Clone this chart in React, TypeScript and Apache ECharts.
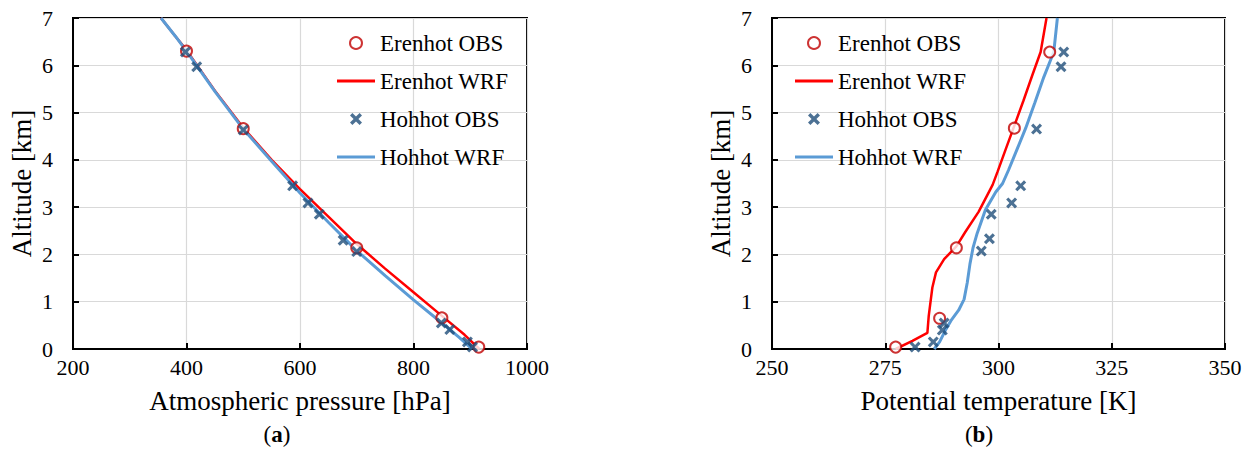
import React, { useEffect, useRef } from 'react';
import * as echarts from 'echarts';

// ---- Data (panel a: pressure vs altitude) ----
const pressureErenhotObs: number[][] = [[400, 6.3], [500, 4.66], [700, 2.14], [850, 0.66], [915, 0.04]];
const pressureErenhotWrf: number[][] = [[355, 7.0], [380, 6.62], [400, 6.32], [450, 5.46], [500, 4.68], [550, 4.0], [600, 3.38], [650, 2.8], [700, 2.22], [750, 1.7], [800, 1.2], [850, 0.7], [890, 0.3], [916, 0.0]];
const pressureHohhotObs: number[][] = [[398, 6.28], [418, 5.97], [500, 4.63], [587, 3.45], [614, 3.09], [634, 2.85], [676, 2.3], [700, 2.06], [849, 0.55], [864, 0.41], [895, 0.15], [904, 0.04]];
const pressureHohhotWrf: number[][] = [[355, 7.0], [380, 6.62], [400, 6.3], [450, 5.45], [500, 4.65], [550, 3.97], [600, 3.3], [650, 2.68], [700, 2.08], [750, 1.55], [800, 1.04], [850, 0.55], [880, 0.25], [903, 0.0]];

// ---- Data (panel b: potential temperature vs altitude) ----
const thetaErenhotObs: number[][] = [[277.3, 0.04], [287, 0.65], [290.7, 2.14], [303.5, 4.67], [311.3, 6.28]];
const thetaErenhotWrf: number[][] = [[277.3, 0.0], [281, 0.17], [284.3, 0.34], [284.6, 0.7], [285.0, 1.0], [285.4, 1.3], [286.2, 1.62], [288, 1.9], [290.7, 2.17], [292.7, 2.48], [295.6, 2.9], [297.5, 3.25], [298.7, 3.47], [299.8, 3.75], [301.5, 4.2], [303.3, 4.67], [305.5, 5.25], [307.5, 5.8], [309.3, 6.28], [310.6, 7.0]];
const thetaHohhotObs: number[][] = [[281.6, 0.04], [285.6, 0.15], [287.6, 0.4], [288, 0.55], [296.2, 2.07], [298, 2.33], [298.4, 2.85], [302.9, 3.09], [304.9, 3.45], [308.4, 4.65], [313.8, 5.97], [314.4, 6.28]];
const thetaHohhotWrf: number[][] = [[285.8, 0.0], [287, 0.15], [288.3, 0.4], [289.5, 0.6], [291.2, 0.82], [292.4, 1.05], [293.1, 1.4], [293.7, 1.8], [294.4, 2.15], [295.3, 2.45], [297.1, 2.94], [299.4, 3.32], [300.9, 3.5], [302.2, 3.78], [304, 4.2], [306, 4.67], [308, 5.2], [310, 5.75], [312.2, 6.28], [313, 7.0]];

const seriesNames = ['Erenhot OBS', 'Erenhot WRF', 'Hohhot OBS', 'Hohhot WRF'];
const xTitles = ['Atmospheric pressure [hPa]', 'Potential temperature [K]'];
const yTitle = 'Altitude [km]';
const captions = ['a', 'b'];

const FONT = '"Liberation Serif", "Times New Roman", Times, serif';
const RED_DARK = '#c00000';
const RED = '#ff0000';
const BLUE_DARK = '#1f4e79';
const BLUE = '#5b9bd5';
const CROSS = 'path://M2,0L5,3L8,0L10,2L7,5L10,8L8,10L5,7L2,10L0,8L3,5L0,2Z';
const LINE_ICON = 'path://M0,0L40,0L40,3L0,3Z';

function makeSeries(idx: number, eObs: number[][], eWrf: number[][], hObs: number[][], hWrf: number[][]) {
  return [
    {
      name: seriesNames[1], type: 'line', xAxisIndex: idx, yAxisIndex: idx, data: eWrf,
      symbol: 'none', lineStyle: { color: RED, width: 2.5 }, itemStyle: { color: RED }, z: 2,
    },
    {
      name: seriesNames[3], type: 'line', xAxisIndex: idx, yAxisIndex: idx, data: hWrf,
      symbol: 'none', lineStyle: { color: BLUE, width: 3 }, itemStyle: { color: BLUE }, z: 3,
    },
    {
      name: seriesNames[0], type: 'scatter', xAxisIndex: idx, yAxisIndex: idx, data: eObs,
      symbol: 'emptyCircle', symbolSize: 11,
      itemStyle: { color: RED_DARK, borderColor: RED_DARK, borderWidth: 3 }, z: 4,
    },
    {
      name: seriesNames[2], type: 'scatter', xAxisIndex: idx, yAxisIndex: idx, data: hObs,
      symbol: CROSS, symbolSize: 11,
      itemStyle: { color: BLUE_DARK }, z: 5,
    },
  ];
}

export default function App() {
  const ref = useRef<HTMLDivElement>(null);
  useEffect(() => {
    if (!ref.current) return;
    const chart = echarts.init(ref.current, null, { renderer: 'svg' });
    const axisCommon = {
      type: 'value',
      axisLine: { show: true, onZero: false, lineStyle: { color: '#000', width: 2 } },
      axisTick: { show: true, inside: true, length: 6, lineStyle: { color: '#000', width: 2 } },
      splitLine: { show: true, lineStyle: { color: '#d9d9d9', width: 1.2 } },
      nameLocation: 'middle',
      nameTextStyle: { fontFamily: FONT, fontSize: 27, color: '#000' },
    };
    const xLabel = { fontFamily: FONT, fontSize: 22, color: '#000', margin: 7, formatter: (v: number) => String(v) };
    const yLabel = { fontFamily: FONT, fontSize: 22, color: '#000', margin: 20 };
    const legendCommon = {
      orient: 'vertical', top: 25, itemWidth: 38, itemHeight: 12, itemGap: 12,
      textStyle: { fontFamily: FONT, fontSize: 23, color: '#000', lineHeight: 26 },
      data: [
        { name: seriesNames[0] },
        { name: seriesNames[1], icon: LINE_ICON },
        { name: seriesNames[2] },
        { name: seriesNames[3], icon: LINE_ICON },
      ],
      selectedMode: false,
    };
    chart.setOption({
      animation: false,
      backgroundColor: '#fff',
      textStyle: { fontFamily: FONT },
      grid: [
        { left: 73, top: 18, width: 454, height: 331, show: true, borderColor: '#000', borderWidth: 2 },
        { left: 772, top: 18, width: 453, height: 331, show: true, borderColor: '#000', borderWidth: 2 },
      ],
      xAxis: [
        { ...axisCommon, gridIndex: 0, min: 200, max: 1000, interval: 200, name: xTitles[0], nameGap: 38, axisLabel: xLabel },
        { ...axisCommon, gridIndex: 1, min: 250, max: 350, interval: 25, name: xTitles[1], nameGap: 38, axisLabel: xLabel },
      ],
      yAxis: [
        { ...axisCommon, gridIndex: 0, min: 0, max: 7, interval: 1, name: yTitle, nameGap: 38, axisLabel: yLabel },
        { ...axisCommon, gridIndex: 1, min: 0, max: 7, interval: 1, name: yTitle, nameGap: 38, axisLabel: yLabel },
      ],
      legend: [
        { ...legendCommon, left: 332 },
        { ...legendCommon, left: 790 },
      ],
      series: [
        ...makeSeries(0, pressureErenhotObs, pressureErenhotWrf, pressureHohhotObs, pressureHohhotWrf),
        ...makeSeries(1, thetaErenhotObs, thetaErenhotWrf, thetaHohhotObs, thetaHohhotWrf),
      ],
      graphic: captions.map((c, i) => ({
        type: 'text',
        x: i === 0 ? 277 : 979,
        y: 434,
        style: {
          text: `{p|(}{b|${c}}{p|)}`,
          align: 'center',
          verticalAlign: 'middle',
          rich: {
            p: { fontFamily: FONT, fontSize: 23, fill: '#000', fontWeight: 'normal' },
            b: { fontFamily: FONT, fontSize: 23, fill: '#000', fontWeight: 'bold' },
          },
        },
      })),
    });
    return () => chart.dispose();
  }, []);
  return <div ref={ref} style={{ position: 'fixed', left: 0, top: 0, width: 1250, height: 450 }} />;
}
